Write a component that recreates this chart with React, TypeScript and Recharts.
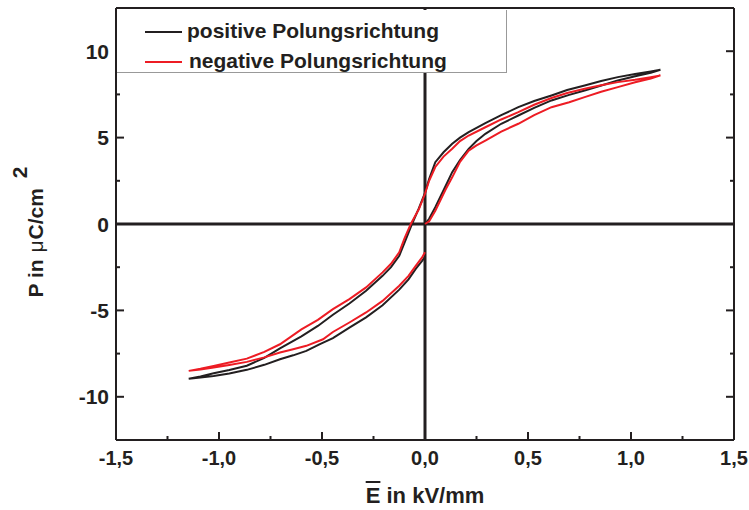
import { LineChart, Line, XAxis, YAxis, ReferenceLine, Legend } from 'recharts'

// E in kV/mm, P in µC/cm² — each loop: rising branch from origin, descending branch, rising back to E = 0
const posE = [
  0, 0.02, 0.05, 0.1, 0.132, 0.17, 0.212, 0.25, 0.293, 0.37, 0.453, 0.53, 0.614, 0.7, 0.775, 0.86, 0.936, 1.02, 1.096, 1.143,
  1.096, 1.02, 0.936, 0.855, 0.775, 0.69, 0.614, 0.53, 0.453, 0.37, 0.293, 0.212, 0.17, 0.132, 0.09, 0.05, 0.02, 0, -0.03, -0.063,
  -0.09, -0.125, -0.165, -0.206, -0.286, -0.367, -0.447, -0.52, -0.6, -0.704, -0.78, -0.865, -0.95, -1.026, -1.09, -1.147,
  -1.09, -1.026, -0.95, -0.865, -0.78, -0.704, -0.64, -0.576, -0.51, -0.447, -0.367, -0.286, -0.206, -0.125, -0.08, -0.045, -0.015, 0,
]
const posP = [
  0, 0.3, 0.97, 2.2, 3.0, 3.7, 4.35, 4.8, 5.22, 5.8, 6.28, 6.72, 7.15, 7.47, 7.73, 8.03, 8.31, 8.55, 8.75, 8.93,
  8.83, 8.68, 8.5, 8.27, 8.02, 7.75, 7.44, 7.12, 6.76, 6.3, 5.84, 5.32, 5.0, 4.64, 4.15, 3.58, 2.6, 1.8, 0.9, 0,
  -0.8, -1.84, -2.5, -3.0, -3.86, -4.6, -5.25, -5.9, -6.5, -7.2, -7.75, -8.2, -8.45, -8.64, -8.82, -8.95,
  -8.88, -8.79, -8.65, -8.44, -8.15, -7.83, -7.6, -7.34, -6.95, -6.6, -6.0, -5.4, -4.7, -3.8, -3.2, -2.6, -2.15, -1.9,
]
const negE = [
  0, 0.02, 0.05, 0.1, 0.132, 0.17, 0.212, 0.25, 0.293, 0.37, 0.453, 0.53, 0.614, 0.7, 0.775, 0.855, 0.936, 1.02, 1.096, 1.143,
  1.096, 1.02, 0.936, 0.855, 0.775, 0.69, 0.614, 0.53, 0.453, 0.37, 0.293, 0.212, 0.17, 0.132, 0.09, 0.05, 0.02, 0, -0.03, -0.069,
  -0.1, -0.125, -0.165, -0.206, -0.286, -0.367, -0.447, -0.52, -0.6, -0.704, -0.78, -0.865, -0.95, -1.026, -1.09, -1.147,
  -1.09, -1.026, -0.95, -0.865, -0.78, -0.704, -0.64, -0.576, -0.495, -0.447, -0.367, -0.286, -0.206, -0.125, -0.08, -0.045, -0.015, 0,
]
const negP = [
  0, 0.15, 0.77, 2.0, 2.7, 3.6, 4.25, 4.55, 4.83, 5.35, 5.8, 6.3, 6.76, 7.05, 7.34, 7.65, 7.92, 8.2, 8.42, 8.6,
  8.5, 8.35, 8.21, 8.03, 7.83, 7.58, 7.29, 6.9, 6.47, 6.05, 5.6, 5.12, 4.8, 4.35, 3.9, 3.3, 2.5, 1.75, 0.85, 0,
  -0.85, -1.64, -2.3, -2.8, -3.67, -4.35, -4.93, -5.55, -6.1, -6.96, -7.4, -7.79, -8.02, -8.21, -8.38, -8.5,
  -8.42, -8.31, -8.16, -7.98, -7.72, -7.44, -7.25, -7.05, -6.67, -6.25, -5.7, -5.12, -4.45, -3.57, -3.0, -2.42, -1.95, -1.64,
]

const seriesNames = ['positive Polungsrichtung', 'negative Polungsrichtung']

const xTicks = [-1.5, -1.25, -1, -0.75, -0.5, -0.25, 0, 0.25, 0.5, 0.75, 1, 1.25, 1.5]
const xMajor = [-1.5, -1, -0.5, 0, 0.5, 1, 1.5]
const yTicks = [-12.5, -10, -7.5, -5, -2.5, 0, 2.5, 5, 7.5, 10, 12.5]
const yMajor = [-10, -5, 0, 5, 10]

const posData = posE.map((E, i) => ({ E, P: posP[i] }))
const negData = negE.map((E, i) => ({ E, P: negP[i] }))

const ink = '#231f20'
const red = '#ed1c24'
const font = '"Liberation Sans", Arial, sans-serif'

const fmtX = (v: number) => v.toFixed(1).replace('.', ',')

function XTick({ x, y, payload, side }: any) {
  const v = payload.value
  const major = xMajor.includes(v)
  const dir = side === 'top' ? 1 : -1
  return (
    <g>
      <line x1={x} y1={y} x2={x} y2={y + dir * (major ? 8 : 4)} stroke={ink} strokeWidth={2} />
      {side === 'bottom' && major && (
        <text x={x} y={y + 25} textAnchor="middle" fontFamily={font} fontWeight="bold" fontSize={20} fill={ink}>
          {fmtX(v)}
        </text>
      )}
    </g>
  )
}

function YTick({ x, y, payload, side }: any) {
  const v = payload.value
  const major = yMajor.includes(v)
  const dir = side === 'left' ? 1 : -1
  return (
    <g>
      <line x1={x} y1={y} x2={x + dir * (major ? 8 : 4)} y2={y} stroke={ink} strokeWidth={2} />
      {side === 'left' && major && (
        <text x={x - 7} y={y + 7.5} textAnchor="end" fontFamily={font} fontWeight="bold" fontSize={21} fill={ink}>
          {v}
        </text>
      )}
    </g>
  )
}

function LegendBox({ payload }: any) {
  const items = seriesNames.map(n => (payload || []).find((p: any) => p.value === n)).filter(Boolean)
  return (
    <div
      style={{
        width: 390,
        height: 63,
        background: '#fff',
        borderRight: '1px solid #999',
        borderBottom: '1px solid #999',
        boxSizing: 'border-box',
        position: 'relative',
        fontFamily: font,
        fontWeight: 'bold',
        fontSize: 21,
        color: ink,
      }}
    >
      {items.map((p: any, i: number) => (
        <div key={p.value} style={{ position: 'absolute', left: 28, top: 9 + i * 29.5, height: 24, lineHeight: '24px', whiteSpace: 'nowrap' }}>
          <span style={{ display: 'inline-block', width: 37, height: 2, background: p.color, verticalAlign: 'middle', marginRight: 5 + i * 2 }} />
          {p.value}
        </div>
      ))}
    </div>
  )
}

export default function App() {
  return (
    <div style={{ position: 'absolute', left: 0, top: 0, width: 749, height: 510, background: '#fff' }}>
      <LineChart width={749} height={510} margin={{ top: 7, right: 14, bottom: 10, left: 56 }}>
        <XAxis
          xAxisId={0}
          dataKey="E"
          type="number"
          domain={[-1.5, 1.5]}
          ticks={xTicks}
          allowDataOverflow
          height={60}
          tickSize={0}
          tickMargin={0}
          tickLine={false}
          axisLine={{ stroke: ink, strokeWidth: 2 }}
          tick={(p: any) => <XTick {...p} side="bottom" />}
          interval={0}
        />
        <XAxis
          xAxisId="top"
          orientation="top"
          type="number"
          domain={[-1.5, 1.5]}
          ticks={xTicks}
          allowDataOverflow
          height={1}
          tickSize={0}
          tickMargin={0}
          tickLine={false}
          axisLine={{ stroke: ink, strokeWidth: 2 }}
          tick={(p: any) => <XTick {...p} side="top" />}
          interval={0}
        />
        <YAxis
          yAxisId={0}
          type="number"
          domain={[-12.5, 12.5]}
          ticks={yTicks}
          allowDataOverflow
          width={60}
          tickSize={0}
          tickMargin={0}
          tickLine={false}
          axisLine={{ stroke: ink, strokeWidth: 2 }}
          tick={(p: any) => <YTick {...p} side="left" />}
          interval={0}
        />
        <YAxis
          yAxisId="right"
          orientation="right"
          type="number"
          domain={[-12.5, 12.5]}
          ticks={yTicks}
          allowDataOverflow
          width={1}
          tickSize={0}
          tickMargin={0}
          tickLine={false}
          axisLine={{ stroke: ink, strokeWidth: 2 }}
          tick={(p: any) => <YTick {...p} side="right" />}
          interval={0}
        />
        <ReferenceLine x={0} stroke={ink} strokeWidth={3} />
        <ReferenceLine y={0} stroke={ink} strokeWidth={3} />
        <Line
          data={posData}
          dataKey="P"
          name={seriesNames[0]}
          type="linear"
          stroke={ink}
          strokeWidth={2}
          dot={false}
          isAnimationActive={false}
        />
        <Line
          data={negData}
          dataKey="P"
          name={seriesNames[1]}
          type="linear"
          stroke={red}
          strokeWidth={2}
          dot={false}
          isAnimationActive={false}
        />
        <Legend
          layout="vertical"
          align="center"
          verticalAlign="middle"
          content={LegendBox}
          wrapperStyle={{ left: 117, top: 10, width: 390, height: 63 }}
        />
      </LineChart>
      <div
        style={{
          position: 'absolute',
          left: 425,
          top: 485,
          transform: 'translateX(-50%)',
          fontFamily: font,
          fontWeight: 'bold',
          fontSize: 22,
          lineHeight: 1,
          color: ink,
          whiteSpace: 'nowrap',
        }}
      >
        <span style={{ textDecoration: 'overline' }}>E</span> in kV/mm
      </div>
      <div
        style={{
          position: 'absolute',
          left: 35,
          top: 232,
          transform: 'translate(-50%, -50%) rotate(-90deg)',
          fontFamily: font,
          fontWeight: 'bold',
          fontSize: 21,
          lineHeight: 1,
          color: ink,
          whiteSpace: 'nowrap',
        }}
      >
        P in <span style={{ fontWeight: 'normal', margin: '0 1px' }}>μ</span>C/cm
        <span style={{ position: 'relative', top: '-0.75em', marginLeft: 10 }}>2</span>
      </div>
    </div>
  )
}
